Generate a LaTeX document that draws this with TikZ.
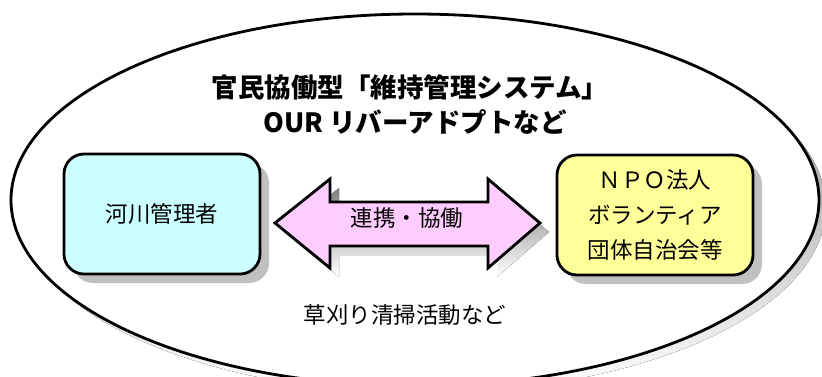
\documentclass[tikz,border=0pt]{standalone}
\usepackage{fontspec}
\newfontfamily\jp{Noto Sans CJK JP}
\usetikzlibrary{shadows}
\definecolor{cyanbox}{HTML}{CCFFFF}
\definecolor{yelbox}{HTML}{FFFF99}
\definecolor{pinkarr}{HTML}{FFCCFF}
\definecolor{shade}{HTML}{C0C0C0}
\begin{document}
\begin{tikzpicture}[x=1pt,y=-1pt,
  lbl/.style={font=\jp\fontsize{22.5}{35}\selectfont, inner sep=0pt, align=center},
  ttl/.style={font=\jp\bfseries\fontsize{26.5}{30}\selectfont, inner sep=0pt},
  rbox/.style={draw=black, line width=2.8pt, rounded corners=20pt, minimum width=196pt, minimum height=120pt,
    drop shadow={shadow xshift=9pt, shadow yshift=-9pt, fill=shade, opacity=1}},
  arrowshape/.style={draw=black, line width=2.8pt, fill=pinkarr, line join=miter},
]
\useasboundingbox (0,0) rectangle (822,376);
\clip (0,0) rectangle (822,376);
% outer ellipse with shadow
\fill[shade] (422,207) ellipse [x radius=404, y radius=186];
\draw[line width=2.8pt, fill=white] (415,200) ellipse [x radius=404, y radius=186];
% title
\node[ttl] (t1) at (410,87) {官民協働型「維持管理システム」};
\node[ttl] (t2) at (415,122) {OUR リバーアドプトなど};
% boxes
\node[rbox, fill=cyanbox, lbl] (kasen) at (162,214) {河川管理者};
\node[rbox, fill=yelbox, lbl] (npo) at (655,215) {ＮＰＯ法人\\ボランティア\\団体自治会等};
% double arrow with shadow
\fill[shade, shift={(9,9)}] (275,223) -- (330,179) -- (330,202) -- (488,202) -- (488,179) -- (540,223)
  -- (488,268) -- (488,246) -- (330,246) -- (330,268) -- cycle;
\draw[arrowshape] (275,223) -- (330,179) -- (330,202) -- (488,202) -- (488,179) -- (540,223)
  -- (488,268) -- (488,246) -- (330,246) -- (330,268) -- cycle;
\node[lbl] (link) at (407,218) {連携・協働};
% bottom text
\node[lbl] (act) at (405,315) {草刈り清掃活動など};
\end{tikzpicture}
\end{document}
